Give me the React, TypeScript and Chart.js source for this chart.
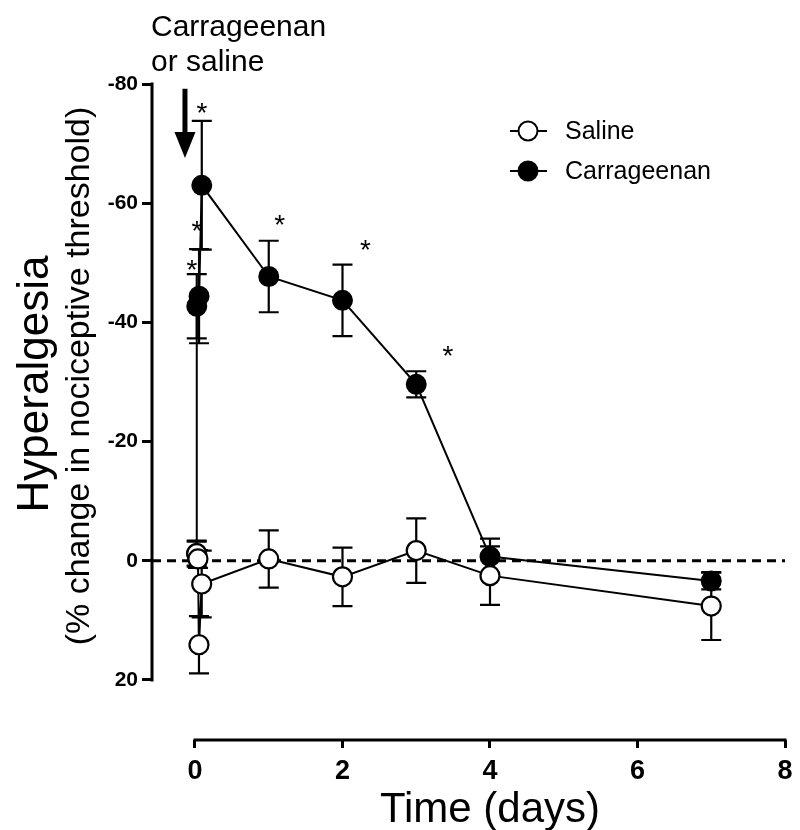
import React, { useEffect, useRef } from "react";
import { Chart, registerables } from "chart.js";

Chart.register(...registerables);

// ---- data (days, % change in nociceptive threshold; negative = hyperalgesia) ----
const salineX = [0.023, 0.04, 0.054, 0.091, 1, 2, 3, 4, 7];
const salineY = [-1.2, -0.3, 14.1, 3.9, -0.3, 2.7, -1.7, 2.5, 7.6];
const salineErr = [2.2, 1.5, 4.8, 5.6, 4.8, 4.9, 5.4, 4.9, 5.7];

const carrX = [0.023, 0.024, 0.055, 0.092, 1, 2, 3, 4, 7];
const carrY = [-1.2, -42.7, -44.4, -63.0, -47.7, -43.7, -29.6, -0.7, 3.4];
const carrErr = [2.0, 5.4, 7.9, 10.8, 6.0, 6.0, 2.2, 3.0, 1.4];

// significance asterisks (data units)
const starX = [0.095, 0.027, -0.04, 1.15, 2.31, 3.43];
const starY = [-76.3, -56.5, -49.9, -57.5, -53.3, -35.5];

const xTicks = [0, 2, 4, 6, 8];
const yTicks = [-80, -60, -40, -20, 0, 20];

const seriesNames = ["Saline", "Carrageenan"];
const annotationLines = ["Carrageenan", "or saline"];
const xTitle = "Time (days)";
const yTitle = "Hyperalgesia";
const ySubTitle = "(% change in nociceptive threshold)";

// injection arrow (data units)
const arrowX = -0.136;
const arrowTop = -79.2;
const arrowTip = -67.6;

const FONT = '"Liberation Sans", Arial, Helvetica, sans-serif';

function toPoints(xs: number[], ys: number[]) {
  return xs.map((x, i) => ({ x, y: ys[i] }));
}

const overlayPlugin = {
  id: "overlay",
  beforeDatasetsDraw(chart: any) {
    const { ctx, chartArea, scales } = chart;
    const xs = scales.x;
    const ys = scales.y;
    ctx.save();
    // dashed zero line
    const y0 = ys.getPixelForValue(0);
    ctx.strokeStyle = "#000";
    ctx.lineWidth = 3;
    ctx.setLineDash([9, 6]);
    ctx.beginPath();
    ctx.moveTo(chartArea.left, y0);
    ctx.lineTo(chartArea.right, y0);
    ctx.stroke();
    ctx.setLineDash([]);

    // error bars
    const drawErr = (X: number[], Y: number[], E: number[]) => {
      ctx.lineWidth = 2.2;
      ctx.strokeStyle = "#000";
      for (let i = 0; i < X.length; i++) {
        const px = xs.getPixelForValue(X[i]);
        const pt = ys.getPixelForValue(Y[i] - E[i]);
        const pb = ys.getPixelForValue(Y[i] + E[i]);
        ctx.beginPath();
        ctx.moveTo(px, pt);
        ctx.lineTo(px, pb);
        ctx.moveTo(px - 10, pt);
        ctx.lineTo(px + 10, pt);
        ctx.moveTo(px - 10, pb);
        ctx.lineTo(px + 10, pb);
        ctx.stroke();
      }
    };
    drawErr(carrX, carrY, carrErr);
    drawErr(salineX, salineY, salineErr);
    ctx.restore();
  },
  afterDraw(chart: any) {
    const { ctx, chartArea, scales } = chart;
    const xs = scales.x;
    const ys = scales.y;
    ctx.save();
    ctx.fillStyle = "#000";
    ctx.strokeStyle = "#000";

    // axis lines
    ctx.lineWidth = 3;
    ctx.lineCap = "square";
    ctx.beginPath();
    ctx.moveTo(chartArea.left, ys.getPixelForValue(yTicks[0]));
    ctx.lineTo(chartArea.left, ys.getPixelForValue(yTicks[yTicks.length - 1]));
    ctx.moveTo(xs.getPixelForValue(xTicks[0]), chartArea.bottom);
    ctx.lineTo(xs.getPixelForValue(xTicks[xTicks.length - 1]), chartArea.bottom);
    ctx.stroke();
    ctx.lineCap = "butt";

    // asterisks
    ctx.font = `28px ${FONT}`;
    ctx.textAlign = "center";
    ctx.textBaseline = "alphabetic";
    for (let i = 0; i < starX.length; i++) {
      ctx.fillText("*", xs.getPixelForValue(starX[i]), ys.getPixelForValue(starY[i]) + 16);
    }

    // arrow
    const ax = xs.getPixelForValue(arrowX);
    const at = ys.getPixelForValue(arrowTop);
    const ab = ys.getPixelForValue(arrowTip);
    ctx.lineWidth = 5;
    ctx.beginPath();
    ctx.moveTo(ax, at);
    ctx.lineTo(ax, ab - 20);
    ctx.stroke();
    ctx.beginPath();
    ctx.moveTo(ax - 10.5, ab - 26);
    ctx.lineTo(ax + 10.5, ab - 26);
    ctx.lineTo(ax, ab);
    ctx.closePath();
    ctx.fill();

    // annotation text
    ctx.font = `30px ${FONT}`;
    ctx.textAlign = "left";
    ctx.textBaseline = "middle";
    ctx.fillText(annotationLines[0], 151, 28);
    ctx.fillText(annotationLines[1], 151, 63);

    // legend
    const legendY = [131, 171];
    const fills = ["#fff", "#000"];
    ctx.font = `25px ${FONT}`;
    for (let i = 0; i < 2; i++) {
      ctx.lineWidth = 2;
      ctx.beginPath();
      ctx.moveTo(510, legendY[i]);
      ctx.lineTo(547, legendY[i]);
      ctx.stroke();
      ctx.beginPath();
      ctx.arc(528, legendY[i], 9.5, 0, Math.PI * 2);
      ctx.fillStyle = fills[i];
      ctx.fill();
      ctx.lineWidth = 2;
      ctx.stroke();
      ctx.fillStyle = "#000";
      ctx.fillText(seriesNames[i], 565, legendY[i] + 1);
    }

    // axis titles
    ctx.textAlign = "center";
    ctx.textBaseline = "alphabetic";
    ctx.font = `42px ${FONT}`;
    ctx.fillText(xTitle, (xs.getPixelForValue(0) + xs.getPixelForValue(8)) / 2, 822);

    ctx.save();
    ctx.translate(48, 384);
    ctx.rotate(-Math.PI / 2);
    ctx.font = `44px ${FONT}`;
    ctx.fillText(yTitle, 0, 0);
    ctx.restore();

    ctx.save();
    ctx.translate(89, 376);
    ctx.rotate(-Math.PI / 2);
    ctx.font = `34px ${FONT}`;
    ctx.fillText(ySubTitle, 0, 0);
    ctx.restore();

    ctx.restore();
  },
};

export default function App() {
  const ref = useRef<HTMLCanvasElement | null>(null);

  useEffect(() => {
    document.body.style.margin = "0";
    const canvas = ref.current;
    if (!canvas) return;
    const chart = new Chart(canvas, {
      type: "line",
      data: {
        datasets: [
          {
            label: seriesNames[0],
            data: toPoints(salineX, salineY),
            borderColor: "#000",
            borderWidth: 2,
            pointRadius: 9.5,
            pointBorderWidth: 2.2,
            pointBackgroundColor: "#fff",
            pointBorderColor: "#000",
            tension: 0,
            fill: false,
          },
          {
            label: seriesNames[1],
            data: toPoints(carrX, carrY),
            borderColor: "#000",
            borderWidth: 2,
            pointRadius: 9.5,
            pointBorderWidth: 2,
            pointBackgroundColor: "#000",
            pointBorderColor: "#000",
            tension: 0,
            fill: false,
          },
        ],
      },
      options: {
        animation: false,
        responsive: false,
        devicePixelRatio: 1,
        events: [],
        layout: { padding: { left: 0, top: 84, right: 15, bottom: 0 } },
        plugins: {
          legend: { display: false },
          tooltip: { enabled: false },
          title: { display: false },
        },
        scales: {
          x: {
            type: "linear",
            min: -0.583,
            max: 8,
            border: { display: false },
            grid: {
              drawOnChartArea: false,
              drawTicks: true,
              tickLength: 8,
              lineWidth: 3,
              color: "#000",
            },
            afterBuildTicks: (scale: any) => {
              scale.ticks = xTicks.map((v) => ({ value: v }));
            },
            afterFit: (scale: any) => {
              scale.height = 90;
              scale.paddingLeft = 0;
              scale.paddingRight = 0;
            },
            ticks: {
              color: "#000",
              padding: 7,
              maxRotation: 0,
              autoSkip: false,
              font: { family: FONT, size: 27, weight: "bold" },
              callback: (v: any) => String(v),
            },
          },
          y: {
            type: "linear",
            reverse: true,
            min: -80,
            max: 30.08,
            border: { display: false },
            grid: {
              drawOnChartArea: false,
              drawTicks: true,
              tickLength: 10,
              lineWidth: 3,
              color: "#000",
            },
            afterBuildTicks: (scale: any) => {
              scale.ticks = yTicks.map((v) => ({ value: v }));
            },
            afterFit: (scale: any) => {
              scale.width = 152;
              scale.paddingTop = 0;
              scale.paddingBottom = 0;
            },
            ticks: {
              color: "#000",
              padding: 4,
              autoSkip: false,
              font: { family: FONT, size: 21, weight: "bold" },
              callback: (v: any) => String(v),
            },
          },
        },
      },
      plugins: [overlayPlugin],
    } as any);
    return () => chart.destroy();
  }, []);

  return (
    <div style={{ width: 800, height: 830, background: "#fff" }}>
      <canvas ref={ref} width={800} height={830} style={{ display: "block" }} />
    </div>
  );
}
